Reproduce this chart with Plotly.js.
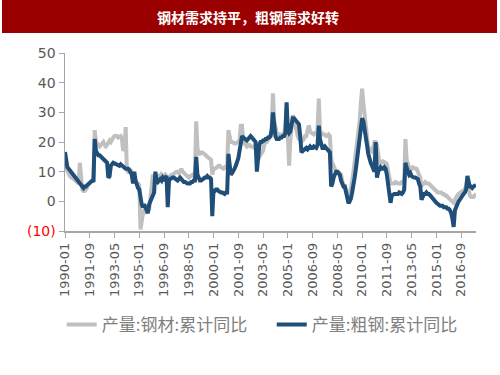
<!DOCTYPE html>
<html>
<head>
<meta charset="utf-8">
<script src="https://cdn.plot.ly/plotly-3.0.1.min.js"></script>
<style>html,body{margin:0;padding:0;background:#fff;}#chart{width:500px;height:375px;}</style>
</head>
<body>
<div id="chart"></div>
<script>
// Monthly series, 1990-01 .. 2017-09
var startYear = 1990;
var monthCount = 333;

var steelProductsYoY = [
  12, 11, 10, 9, 8.5, 8, 8, 7.5, 7, 7, 6.5, 6,
  13, 5, 4, 3.5, 3.5, 4, 5, 5.5, 6, 6.5, 7, 6.5,
  24, 20, 19.5, 19, 18.5, 19, 19.5, 20, 19, 18.5, 19, 20,
  20.5, 20, 21, 21.5, 22, 22, 22, 21.5, 22, 22, 21, 17,
  18, 25, 11, 10, 10, 10.5, 10, 9, 8, 7, 6, 6,
  5.5, -9.5, -6, -4, -3, -3.5, -3, -2.5, -3, 2, 5, 9,
  8, 8, 7.5, 8, 8.5, 8, 9, 8.5, 8.5, 9, 8.5, 4,
  8, 8.5, 9, 9, 9.5, 9.5, 10, 10, 9.5, 10, 11, 10,
  9.5, 9, 8.5, 8, 8, 8.5, 8.5, 9, 9, 10, 27, 18,
  16, 16, 16.5, 16.5, 16, 16, 15.5, 15, 14.5, 14, 14, 9,
  11, 11, 11.5, 11.5, 12, 12, 11.5, 11, 11, 11.5, 12, 12,
  24, 21, 20, 20, 19.5, 19.5, 19.5, 20, 20, 20.5, 25.5, 25.5,
  20, 19.5, 19, 18.5, 19, 19, 18.5, 18.5, 18.5, 18, 18, 15,
  14, 15, 15.5, 16, 17, 19, 20, 20, 20.5, 21, 22, 25,
  36.4, 27, 24, 23, 22.5, 22.5, 22.5, 22, 22.5, 23, 25, 32,
  22, 12, 20, 24, 29, 28, 25, 24, 22, 21, 21, 20,
  20.5, 21, 22, 22, 24, 25.6, 23.5, 23, 23, 22.5, 23, 23,
  24, 34.6, 24, 23, 22.5, 22.5, 22.5, 22, 22, 22.5, 22, 15,
  11.5, 12, 11, 10, 10, 10, 9.5, 9, 7, 5, 5, 4,
  2, 0.5, 2, 4, 7, 10, 13, 16, 19, 22, 27, 33,
  38, 33, 29, 25, 21, 18, 17, 17.5, 17, 18, 20, 20,
  19, 15, 13, 13, 13, 13.5, 13, 13, 12.5, 10, 8, 6,
  6, 6, 6, 6.5, 6, 6, 6, 6, 6.5, 6.5, 7, 21,
  14, 12, 11.5, 11, 11, 11.5, 11, 11, 11, 10, 9, 8,
  5, 6, 6, 6.5, 6, 6, 6, 5.5, 5, 4.5, 4, 4,
  3.5, 3, 3, 3, 3, 2.5, 2.5, 2, 2, 1.5, 1, 0.5,
  0, 0, -0.5, 0.5, 1.5, 2, 2.5, 3, 3, 3.5, 3.5, 4,
  5, 7, 3, 2, 1.5, 1.5, 1.5, 2, 1.5
];

var crudeSteelYoY = [
  16.6, 14, 11.5, 11, 10.5, 10, 9.5, 9, 8.5, 8, 7.5, 7,
  6, 5.5, 5, 4.5, 5, 5, 5.5, 6, 6.5, 6.5, 7, 6.5,
  21, 17, 16, 15.5, 15.5, 15, 14.5, 14, 14, 13.5, 13, 8,
  8.5, 12, 12.5, 13, 12.8, 12.5, 12.5, 12, 12, 12.5, 12, 11.5,
  11, 11, 11, 11, 10.5, 10, 9, 6, 10, 7, 5, 4.5,
  4, 1, -1, -2, -1, -2, -3, -4, -1, 0, 1, 2,
  3, 10, 7, 6.5, 7, 7.5, 7, 8, 7.5, 8, 8.5, -2,
  7, 7.5, 8, 8, 8, 7.5, 7, 7, 7.5, 8, 7.5, 7,
  6.5, 6.5, 6, 6, 6, 6, 6.5, 6.5, 7, 7, 15, 9,
  8, 7, 7, 7.5, 7.5, 8, 8, 8.5, 8, 8, 7.5, -5,
  4, 3.5, 4, 4, 3.5, 3, 3, 3, 2.5, 2.5, 3, 3,
  16, 10, 9, 9.5, 10, 11, 12, 13, 14.5, 17, 21, 22,
  21.5, 21, 21, 20.5, 21, 21.5, 22, 21.5, 21, 21, 20, 10,
  17, 19, 20, 20, 20.5, 20.5, 21, 21, 21.5, 21.5, 22, 24,
  30, 25, 22, 21, 21, 21, 21.5, 21.5, 22, 22, 23, 33.4,
  24, 23, 23.5, 26, 28, 28, 27.5, 27, 26.5, 26, 22, 16.5,
  17, 17.5, 18, 18, 17.5, 18, 18.5, 18, 18, 18.5, 18, 18,
  19, 25.5, 21, 19, 18, 18, 18.5, 18, 17.5, 17, 16.5, 5,
  6, 8, 9, 10, 10, 9.5, 9, 7, 5.5, 5, 5, 3,
  1, -0.7, 0, 1, 3, 5, 8, 11, 14, 17, 20, 24,
  28, 27, 25, 22, 19, 16, 14, 13, 12, 11, 10, 20,
  8, 10, 11, 11.5, 11, 11, 11.5, 11, 9, 6, 3, -0.5,
  2, 2.5, 2.5, 2.5, 2.5, 2.5, 3, 2.5, 2.5, 3, 4, 13,
  11, 10, 9, 9.5, 8.5, 8, 8, 8, 7.5, 7.5, 6, 5,
  0.5, 2, 2.5, 2.5, 3, 2.5, 2.5, 2, 1.5, 1.5, 1, 0,
  -0.5, -1, -1.5, -1.5, -1.5, -1.5, -2, -2, -2, -2.5, -2.5, -3,
  -4, -6, -8.6, -3, -1.5, -1, 0, 0.5, 1, 1.5, 2.5, 3,
  4, 8.6, 6, 5, 5, 4.5, 5, 5.5, 5.5
];

var xTickLabels = ['1990-01','1991-09','1993-05','1995-01','1996-09','1998-05','2000-01','2001-09','2003-05','2005-01','2006-09','2008-05','2010-01','2011-09','2013-05','2015-01','2016-09'];
var yTickVals = [-10, 0, 10, 20, 30, 40, 50];
var yTickText = ['<span style="color:#ff0000">(10)</span>', '0', '10', '20', '30', '40', '50'];
var seriesNames = ['产量:钢材:累计同比', '产量:粗钢:累计同比'];
var chartTitle = '钢材需求持平，粗钢需求好转';

var months = [];
for (var i = 0; i < monthCount; i++) {
  var y = startYear + Math.floor(i / 12);
  var m = (i % 12) + 1;
  months.push(y + '-' + (m < 10 ? '0' + m : m) + '-01');
}
var xTickVals = xTickLabels.map(function (s) { return s + '-01'; });

var traces = [
  {x: months, y: steelProductsYoY, type: 'scatter', mode: 'lines', name: seriesNames[0],
   line: {color: '#c0c0c0', width: 4}, legend: 'legend'},
  {x: months, y: crudeSteelYoY, type: 'scatter', mode: 'lines', name: seriesNames[1],
   line: {color: '#1f4e79', width: 4}, legend: 'legend2'}
];

var legendFont = {family: 'Noto Sans CJK SC', size: 17, color: '#808080'};

var layout = {
  width: 500, height: 375,
  margin: {l: 65, r: 24, t: 53, b: 144},
  paper_bgcolor: '#ffffff', plot_bgcolor: '#ffffff',
  showlegend: true,
  legend: {orientation: 'h', x: -0.008, y: -0.528, xanchor: 'left', yanchor: 'middle',
    font: legendFont, bgcolor: 'rgba(0,0,0,0)'},
  legend2: {orientation: 'h', x: 0.503, y: -0.528, xanchor: 'left', yanchor: 'middle',
    font: legendFont, bgcolor: 'rgba(0,0,0,0)'},
  xaxis: {type: 'date', range: [months[0], months[monthCount - 1]],
    tickmode: 'array', tickvals: xTickVals, ticktext: xTickLabels, tickangle: -90,
    showgrid: false, zeroline: false, showline: true, linecolor: '#a6a6a6', linewidth: 1.5,
    ticks: 'outside', ticklen: 5, tickcolor: '#a6a6a6',
    tickfont: {family: 'DejaVu Sans', size: 13, color: '#595959'}},
  yaxis: {range: [-10, 50], tickmode: 'array', tickvals: yTickVals, ticktext: yTickText,
    showgrid: false, zeroline: false, showline: true, linecolor: '#a6a6a6', linewidth: 1.5,
    ticks: 'outside', ticklen: 5, tickcolor: '#a6a6a6',
    tickfont: {family: 'DejaVu Sans', size: 14, color: '#595959'}},
  shapes: [{type: 'rect', xref: 'paper', yref: 'paper',
    x0: -63 / 411, x1: 432 / 411, y0: 198 / 178, y1: 231 / 178,
    fillcolor: '#9b0000', line: {width: 0}, layer: 'below'}],
  annotations: [{xref: 'paper', yref: 'paper', x: 183 / 411, y: 214 / 178,
    text: '<b>' + chartTitle + '</b>', showarrow: false, xanchor: 'center', yanchor: 'middle',
    font: {family: 'Noto Sans CJK SC', size: 14, color: '#ffffff'}}]
};

Plotly.newPlot('chart', traces, layout, {displayModeBar: false, staticPlot: true});
</script>
</body>
</html>
